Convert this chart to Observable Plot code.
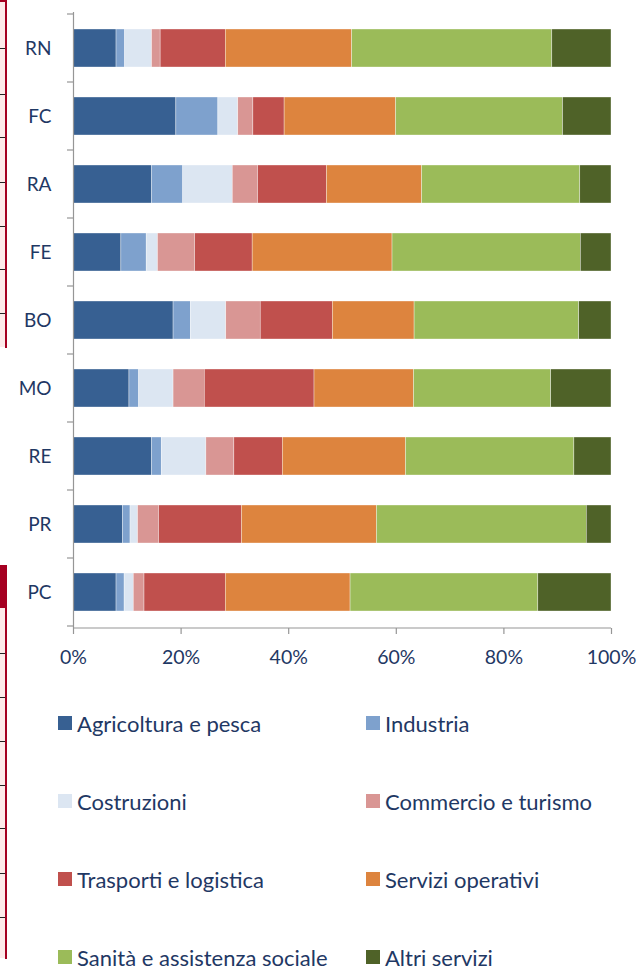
<!DOCTYPE html>
<html>
<head>
<meta charset="utf-8">
<script src="https://cdn.jsdelivr.net/npm/d3@7"></script>
<script src="https://cdn.jsdelivr.net/npm/@observablehq/plot@0.6"></script>
<style>
  html, body { margin: 0; padding: 0; background: #fff; }
  #wrap { position: relative; width: 638px; height: 966px; overflow: hidden; font-family: Lato, "Open Sans", sans-serif; color: #1f3864; }
  #chart { position: absolute; left: 0; top: 0; }
  #legend { position: absolute; left: 0; top: 684px; width: 638px; }
  .item { position: absolute; display: flex; align-items: center; height: 78px; font-size: 22px; white-space: nowrap; }
  .sw { width: 14px; height: 14px; margin-right: 5px; flex: none; }
  .deco { position: absolute; }
</style>
</head>
<body>
<div id="wrap">
  <div id="deco"></div>
  <div id="chart"></div>
  <div id="legend"></div>
</div>
<script>
// ---- data ----
const provinces = ["RN", "FC", "RA", "FE", "BO", "MO", "RE", "PR", "PC"];
const sectors = ["Agricoltura e pesca", "Industria", "Costruzioni", "Commercio e turismo",
                 "Trasporti e logistica", "Servizi operativi", "Sanità e assistenza sociale", "Altri servizi"];
const colors = ["#376092", "#7ea1cd", "#dce6f2", "#d99694", "#c0504d", "#dd843e", "#9bbb59", "#4f6228"];
const agricoltura = [8.0, 19.1, 14.6, 8.9, 18.6, 10.4, 14.6, 9.2, 8.0];
const industria   = [1.6, 7.8, 5.8, 4.7, 3.2, 1.8, 1.8, 1.4, 1.5];
const costruzioni = [5.0, 3.7, 9.2, 2.1, 6.6, 6.4, 8.3, 1.4, 1.7];
const commercio   = [1.6, 2.8, 4.7, 6.9, 6.4, 5.8, 5.2, 3.9, 2.0];
const trasporti   = [12.1, 5.8, 12.8, 10.7, 13.4, 20.4, 9.0, 15.4, 15.1];
const servizi     = [23.5, 20.7, 17.7, 26.0, 15.2, 18.5, 22.9, 25.1, 23.2];
const sanita      = [37.2, 31.0, 29.4, 35.0, 30.6, 25.5, 31.3, 39.0, 34.9];
const altri       = [11.0, 9.0, 5.8, 5.7, 6.0, 11.2, 6.9, 4.6, 13.6];
const xTicks = [0, 20, 40, 60, 80, 100];

const series = [agricoltura, industria, costruzioni, commercio, trasporti, servizi, sanita, altri];
const rows = [];
sectors.forEach((s, i) => provinces.forEach((p, j) => rows.push({sector: s, prov: p, value: series[i][j]})));

const axisGray = "#969696";

// custom y-axis boundary ticks + bottom axis line, from the plot's own scales
function frameTicks(index, scales, values, dimensions) {
  const g = d3.create("svg:g");
  const y = scales.y, x = scales.x;
  const top = dimensions.marginTop, bottom = dimensions.height - dimensions.marginBottom;
  const step = y.step ? y.step() : (bottom - top) / provinces.length;
  const bw = y.bandwidth ? y.bandwidth() : step * 0.56;
  const x0 = x(0), x1 = x(100);
  const ys = provinces.map(p => y(p) - (step - bw) / 2);
  ys.push(y(provinces[provinces.length - 1]) + bw + (step - bw) / 2);
  ys.forEach(v => g.append("line").attr("x1", x0 - 6).attr("x2", x0).attr("y1", v).attr("y2", v)
    .attr("stroke", axisGray).attr("stroke-width", 1.2));
  g.append("line").attr("x1", x0).attr("x2", x1).attr("y1", bottom).attr("y2", bottom)
    .attr("stroke", axisGray).attr("stroke-width", 1.2);
  return g.node();
}

const chart = Plot.plot({
  width: 638,
  height: 680,
  marginLeft: 73,
  marginRight: 27,
  marginTop: 12,
  marginBottom: 52,
  style: {fontFamily: "Lato, 'Open Sans', sans-serif", color: "#1f3864", background: "transparent"},
  x: {percent: true, domain: [0, 100], ticks: xTicks, tickFormat: d => d + "%", label: null},
  y: {domain: provinces, paddingInner: 0.44, paddingOuter: 0.22, label: null},
  color: {domain: sectors, range: colors},
  marks: [
    Plot.ruleX(xTicks.slice(1), {stroke: axisGray, strokeWidth: 1.2, strokeOpacity: 1}),
    Plot.barX(rows, Plot.stackX({x: "value", y: "prov", fill: "sector", order: sectors, offset: "normalize",
      stroke: "white", strokeWidth: 0.5, strokeOpacity: 0.7})),
    Plot.ruleX([0], {stroke: axisGray, strokeWidth: 1.2}),
    Plot.axisX({ticks: xTicks, tickFormat: d => d + "%", tickSize: 6, tickPadding: 16, fontSize: 19.5,
      stroke: axisGray, strokeWidth: 1.2, strokeOpacity: 1, label: null}),
    Plot.axisY({tickSize: 0, tickPadding: 22, fontSize: 19, label: null}),
    frameTicks
  ]
});
document.getElementById("chart").appendChild(chart);

// legend
const legend = document.getElementById("legend");
sectors.forEach((s, i) => {
  const col = i % 2, row = Math.floor(i / 2);
  const it = document.createElement("div");
  it.className = "item";
  it.style.left = (col === 0 ? 58 : 366) + "px";
  it.style.top = (row * 78) + "px";
  const sw = document.createElement("span");
  sw.className = "sw";
  sw.style.background = colors[i];
  const tx = document.createElement("span");
  tx.textContent = s;
  it.appendChild(sw); it.appendChild(tx);
  legend.appendChild(it);
});

// decorative page-edge remnants on the left
const deco = document.getElementById("deco");
function box(l, t, w, h, bg) {
  const d = document.createElement("div");
  d.className = "deco";
  Object.assign(d.style, {left: l + "px", top: t + "px", width: w + "px", height: h + "px", background: bg});
  deco.appendChild(d);
}
const crimson = "#a50021";
box(0, 2, 5, 345, "#fdeaea");
box(0, 0, 7, 2, crimson);
box(5, 0, 2, 348, crimson);
[48, 94, 137, 182, 226, 269, 313].forEach(v => box(0, v, 5, 1, "#222"));
box(0, 565, 7, 43, crimson);
box(0, 608, 5, 350, "#fdeaea");
box(5, 608, 2, 351, crimson);
[653, 697, 741, 785, 828, 873, 917].forEach(v => box(0, v, 5, 1, "#222"));
</script>
</body>
</html>
